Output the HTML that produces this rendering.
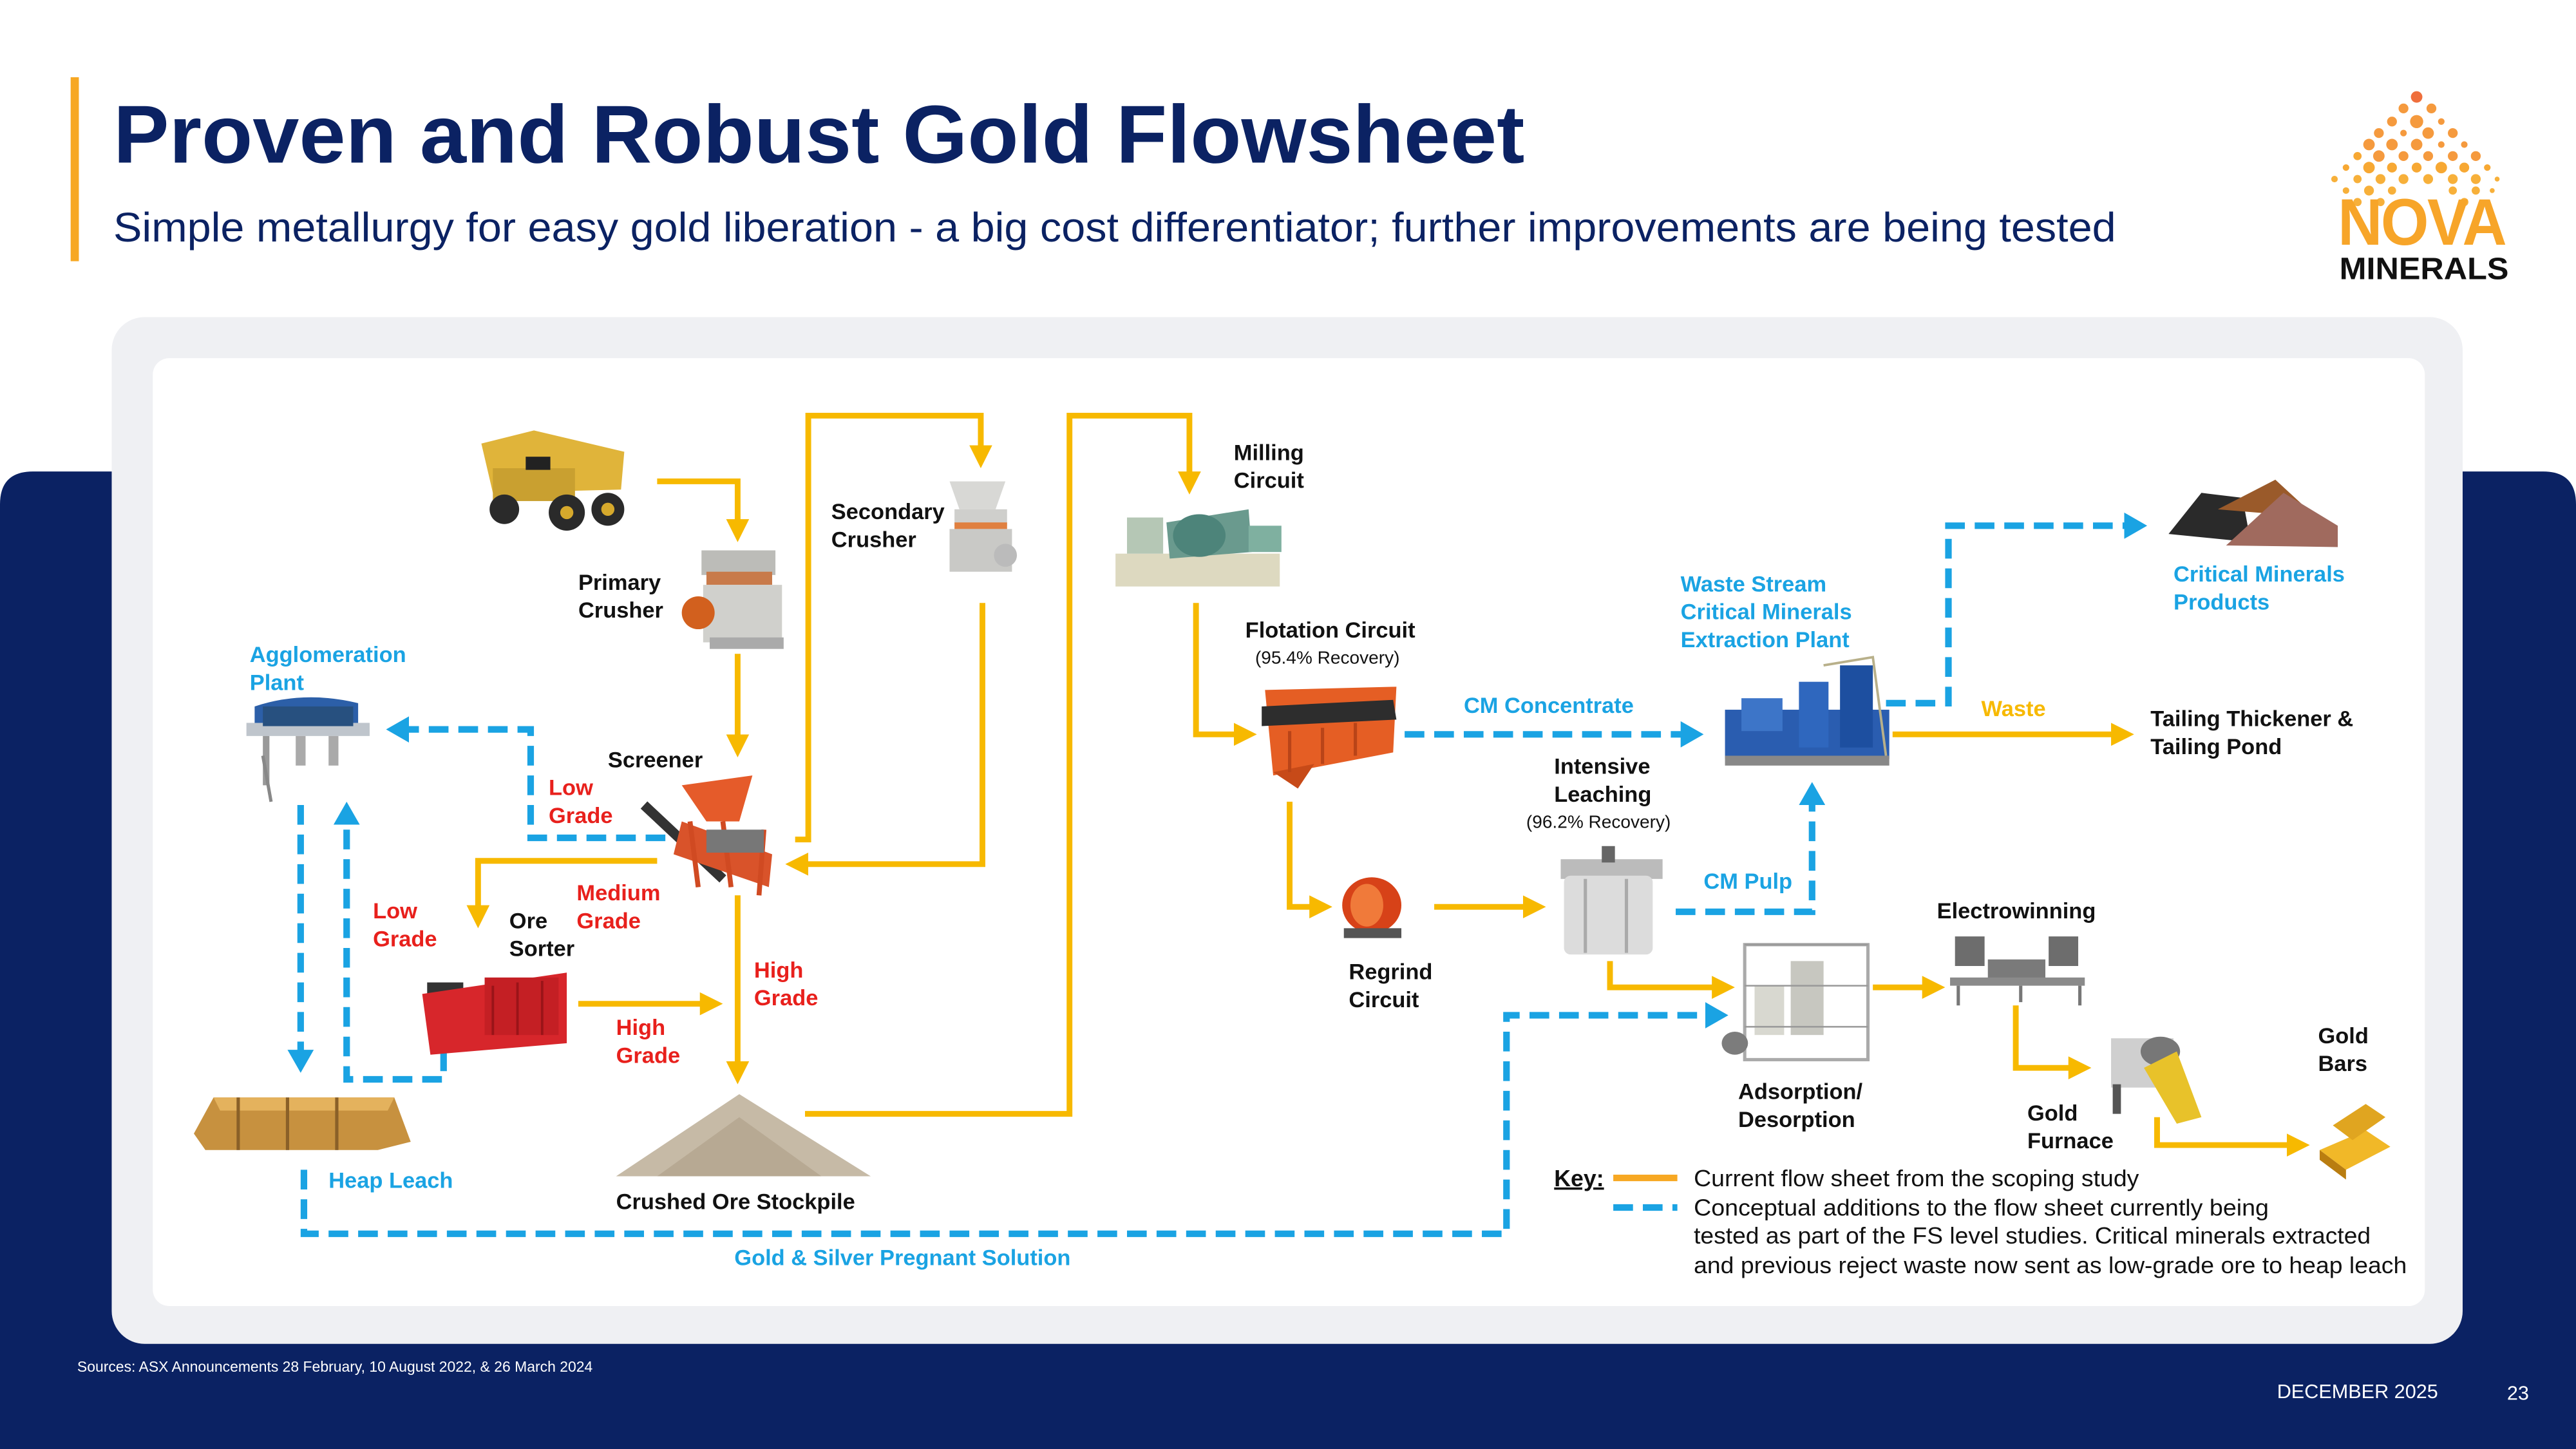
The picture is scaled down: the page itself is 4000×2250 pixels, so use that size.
<!DOCTYPE html>
<html><head><meta charset="utf-8">
<style>
html,body{margin:0;padding:0;background:#fff;}
svg{display:block;}
text{font-family:"Liberation Sans",Arial,sans-serif;}
.b{font-weight:bold;font-size:13.5px;fill:#111;}
.bl{font-weight:bold;font-size:13.5px;fill:#1aa3e3;}
.rd{font-weight:bold;font-size:13.5px;fill:#e8201c;}
.sm{font-size:11px;fill:#111;}
.k{font-size:14px;fill:#111;}
</style></head>
<body>
<svg width="4000" height="2250" viewBox="0 0 1568 882" preserveAspectRatio="none" xmlns="http://www.w3.org/2000/svg">
<defs>
<marker id="ay" markerWidth="4" markerHeight="4" refX="2" refY="2" orient="auto" markerUnits="strokeWidth"><path d="M0,0 L4,2 L0,4 Z" fill="#f7b900"/></marker>
<marker id="ab" markerWidth="3.5" markerHeight="4" refX="1.5" refY="2" orient="auto" markerUnits="strokeWidth"><path d="M0,0 L3.5,2 L0,4 Z" fill="#1aa3e3"/></marker>
</defs>
<rect width="1568" height="882" fill="#fff"/>
<path d="M0,307 Q0,287 20,287 L1548,287 Q1568,287 1568,307 L1568,882 L0,882 Z" fill="#0b2263"/>
<rect x="43" y="47" width="5" height="112" fill="#f7a823"/>
<text x="69" y="99" textLength="859" lengthAdjust="spacingAndGlyphs" style="font-weight:bold;font-size:50px;fill:#0b2263">Proven and Robust Gold Flowsheet</text>
<text x="69" y="147" textLength="1219" lengthAdjust="spacingAndGlyphs" style="font-size:25px;fill:#0b2263">Simple metallurgy for easy gold liberation - a big cost differentiator; further improvements are being tested</text>
<g fill="#f59a3e">
<circle cx="1471" cy="59" r="3.5" fill="#ef6f3c"/>
<circle cx="1463" cy="66" r="3"/><circle cx="1480" cy="66" r="3"/>
<circle cx="1456" cy="74" r="3"/><circle cx="1471" cy="74" r="4"/><circle cx="1486" cy="74" r="2"/>
<circle cx="1448" cy="81" r="3"/><circle cx="1463" cy="81" r="2"/><circle cx="1478" cy="81" r="3.5"/><circle cx="1493" cy="81" r="3"/>
<circle cx="1442" cy="88" r="3.5"/><circle cx="1456" cy="88" r="3.5"/><circle cx="1471" cy="88" r="3.5"/><circle cx="1486" cy="88" r="2"/><circle cx="1500" cy="88" r="2"/>
<circle cx="1435" cy="95" r="2.5" fill="#f7a833"/><circle cx="1448" cy="95" r="3.5"/><circle cx="1463" cy="95" r="3"/><circle cx="1478" cy="95" r="3"/><circle cx="1493" cy="95" r="3"/><circle cx="1507" cy="95" r="3"/>
<circle cx="1428" cy="102" r="2" fill="#f7a833"/><circle cx="1442" cy="102" r="3.5" fill="#f7a833"/><circle cx="1456" cy="102" r="3" fill="#f7a833"/><circle cx="1471" cy="102" r="3" fill="#f7a833"/><circle cx="1486" cy="102" r="3.5" fill="#f7a833"/><circle cx="1500" cy="102" r="3" fill="#f7a833"/><circle cx="1514" cy="102" r="2" fill="#f7a833"/>
<circle cx="1421" cy="109" r="2" fill="#f7b03a"/><circle cx="1435" cy="109" r="2.5" fill="#f7b03a"/><circle cx="1449" cy="109" r="3" fill="#f7b03a"/><circle cx="1463" cy="109" r="3" fill="#f7b03a"/><circle cx="1478" cy="109" r="3" fill="#f7b03a"/><circle cx="1493" cy="109" r="3" fill="#f7b03a"/><circle cx="1507" cy="109" r="3" fill="#f7b03a"/><circle cx="1520" cy="109" r="1.5" fill="#f7b03a"/>
<circle cx="1428" cy="116" r="2" fill="#f7b03a"/><circle cx="1442" cy="116" r="3" fill="#f7b03a"/><circle cx="1456" cy="116" r="2.5" fill="#f7b03a"/><circle cx="1493" cy="116" r="2.5" fill="#f7b03a"/><circle cx="1507" cy="116" r="2.5" fill="#f7b03a"/><circle cx="1517" cy="116" r="1.5" fill="#f7b03a"/>
<circle cx="1435" cy="123" r="2.5" fill="#f7b03a"/><circle cx="1449" cy="123" r="2.5" fill="#f7b03a"/><circle cx="1500" cy="123" r="2.5" fill="#f7b03a"/>
</g>
<text x="1423" y="149" style="font-weight:bold;font-size:40px;fill:#f7a529;letter-spacing:-1px" textLength="102" lengthAdjust="spacingAndGlyphs">NOVA</text>
<text x="1424" y="170" style="font-weight:bold;font-size:19px;fill:#111" textLength="103" lengthAdjust="spacingAndGlyphs">MINERALS</text>
<rect x="68" y="193" width="1431" height="625" rx="20" fill="#eff0f3"/>
<rect x="93" y="218" width="1383" height="577" rx="10" fill="#fff"/>

<g fill="none" stroke="#f7b900" stroke-width="3.5" stroke-linejoin="miter">
<path d="M400,293 L449,293 L449,323" marker-end="url(#ay)"/>
<path d="M449,398 L449,454" marker-end="url(#ay)"/>
<path d="M484,511 L492,511 L492,253 L597,253 L597,278" marker-end="url(#ay)"/>
<path d="M598,367 L598,526 L485,526" marker-end="url(#ay)"/>
<path d="M400,524 L291,524 L291,558" marker-end="url(#ay)"/>
<path d="M352,611 L433,611" marker-end="url(#ay)"/>
<path d="M449,545 L449,653" marker-end="url(#ay)"/>
<path d="M490,678 L651,678 L651,253 L724,253 L724,294" marker-end="url(#ay)"/>
<path d="M728,367 L728,447 L758,447" marker-end="url(#ay)"/>
<path d="M785,488 L785,552 L804,552" marker-end="url(#ay)"/>
<path d="M873,552 L934,552" marker-end="url(#ay)"/>
<path d="M980,585 L980,601 L1049,601" marker-end="url(#ay)"/>
<path d="M1140,601 L1177,601" marker-end="url(#ay)"/>
<path d="M1227,612 L1227,650 L1266,650" marker-end="url(#ay)"/>
<path d="M1313,680 L1313,697 L1399,697" marker-end="url(#ay)"/>
<path d="M1152,447 L1292,447" marker-end="url(#ay)"/>
</g>
<g fill="none" stroke="#1aa3e3" stroke-width="4" stroke-dasharray="12,6">
<path d="M405,510 L323,510 L323,444 L243,444" marker-end="url(#ab)"/>
<path d="M183,490 L183,645" marker-end="url(#ab)"/>
<path d="M270,640 L270,657 L211,657 L211,496" marker-end="url(#ab)"/>
<path d="M185,712 L185,751 L917,751 L917,618 L1044,618" marker-end="url(#ab)"/>
<path d="M855,447 L1029,447" marker-end="url(#ab)"/>
<path d="M1020,555 L1103,555 L1103,484" marker-end="url(#ab)"/>
<path d="M1148,428 L1186,428 L1186,320 L1299,320" marker-end="url(#ab)"/>
</g>

<g>
<path d="M293,270 L325,262 L380,275 L378,298 L300,300 Z" fill="#e0b43a"/>
<rect x="300" y="285" width="50" height="20" fill="#c9a030"/>
<circle cx="307" cy="310" r="9" fill="#2a2a2a"/><circle cx="345" cy="312" r="11" fill="#2a2a2a"/><circle cx="370" cy="310" r="10" fill="#2a2a2a"/>
<circle cx="345" cy="312" r="4" fill="#d6a92c"/><circle cx="370" cy="310" r="4" fill="#d6a92c"/>
<rect x="320" y="278" width="15" height="8" fill="#222"/>
</g>
<g>
<rect x="427" y="335" width="45" height="15" fill="#bcbcb8"/>
<rect x="430" y="348" width="40" height="8" fill="#c87a4a"/>
<rect x="428" y="356" width="48" height="35" fill="#d0d0cc"/>
<circle cx="425" cy="373" r="10" fill="#d2601e"/>
<rect x="432" y="388" width="45" height="7" fill="#aaa"/>
</g>
<g>
<path d="M578,293 L612,293 L606,310 L584,310 Z" fill="#d8d8d5"/>
<rect x="581" y="310" width="32" height="10" fill="#cfcfcc"/>
<rect x="581" y="318" width="32" height="4" fill="#e08040"/>
<rect x="578" y="322" width="38" height="26" fill="#c9c9c6"/>
<circle cx="612" cy="338" r="7" fill="#bbb"/>
</g>
<g>
<rect x="150" y="440" width="75" height="8" fill="#bfc5cc"/>
<path d="M155,430 Q185,420 218,428 L218,440 L155,440 Z" fill="#2c5fa8"/>
<rect x="160" y="430" width="55" height="12" fill="#27507f"/>
<rect x="160" y="448" width="4" height="30" fill="#999"/><rect x="180" y="448" width="6" height="18" fill="#aaa"/><rect x="200" y="448" width="6" height="18" fill="#aaa"/>
<path d="M160,460 L165,488" stroke="#888" stroke-width="2"/>
</g>
<g>
<path d="M415,478 L458,472 L450,500 L430,500 Z" fill="#e55b2a"/>
<path d="M392,490 L440,535" stroke="#333" stroke-width="6"/>
<path d="M415,500 L470,520 L468,540 L410,520 Z" fill="#d9532a"/>
<path d="M420,500 L425,540 M465,505 L462,545 M440,500 L445,540" stroke="#d04a22" stroke-width="3"/>
<rect x="430" y="505" width="35" height="14" fill="#777"/>
</g>
<g>
<rect x="260" y="598" width="22" height="14" fill="#333"/>
<path d="M257,605 L345,592 L345,635 L262,642 Z" fill="#d7262b"/>
<rect x="295" y="595" width="45" height="35" fill="#c41f24"/>
<path d="M300,600 L300,630 M315,598 L315,630 M330,597 L330,630" stroke="#9a1418" stroke-width="1.5"/>
</g>
<g>
<path d="M118,690 L130,668 L240,668 L250,695 L230,700 L125,700 Z" fill="#c7913f"/>
<path d="M130,668 L240,668 L236,676 L134,676 Z" fill="#e4b25d"/>
<path d="M145,668 L145,700 M175,668 L175,700 M205,668 L205,700" stroke="#8a6028" stroke-width="2"/>
</g>
<path d="M375,716 L450,666 L530,716 Z" fill="#c6baa6"/>
<path d="M400,716 L450,680 L500,716 Z" fill="#b7a993"/>
<g>
<rect x="679" y="337" width="100" height="20" fill="#ddd9c0"/>
<path d="M710,318 L760,310 L762,336 L712,340 Z" fill="#6a9a8e"/>
<ellipse cx="730" cy="326" rx="16" ry="13" fill="#4d847a"/>
<rect x="686" y="315" width="22" height="22" fill="#b5c7b5"/>
<rect x="760" y="320" width="20" height="16" fill="#7fb0a0"/>
</g>
<g>
<path d="M770,420 L850,418 L848,458 L775,472 Z" fill="#e55e24"/>
<path d="M768,430 L848,426 L850,438 L768,442 Z" fill="#2d2d2d"/>
<path d="M775,470 L790,480 L800,465" fill="#c74a18"/>
<path d="M785,445 L785,470 M805,443 L805,465 M825,440 L825,460" stroke="#b94418" stroke-width="2"/>
</g>
<g>
<rect x="1050" y="432" width="100" height="30" fill="#2a5db0"/>
<rect x="1120" y="405" width="20" height="50" fill="#1d4fa0"/>
<rect x="1095" y="415" width="18" height="40" fill="#2f67be"/>
<rect x="1060" y="425" width="25" height="20" fill="#3d75c8"/>
<path d="M1110,405 L1140,400 L1148,460" stroke="#b8b08a" stroke-width="1.5" fill="none"/>
<rect x="1050" y="460" width="100" height="6" fill="#888"/>
</g>
<g>
<path d="M1320,325 L1340,300 L1365,303 L1370,330 Z" fill="#2a2a2a"/>
<path d="M1350,310 L1385,292 L1410,315 Z" fill="#9a5a2a"/>
<path d="M1355,332 L1390,300 L1423,320 L1423,333 Z" fill="#a06a5e"/>
</g>
<g>
<ellipse cx="835" cy="551" rx="18" ry="17" fill="#d74218"/>
<ellipse cx="832" cy="551" rx="10" ry="13" fill="#f07a3a"/>
<rect x="818" y="565" width="35" height="6" fill="#555"/>
</g>
<g>
<rect x="950" y="523" width="62" height="12" fill="#bbb"/>
<rect x="952" y="533" width="54" height="48" rx="4" fill="#dcdcdc"/>
<path d="M965,535 L965,580 M990,535 L990,580" stroke="#aaa" stroke-width="2"/>
<rect x="975" y="515" width="8" height="10" fill="#666"/>
</g>
<g>
<rect x="1062" y="575" width="75" height="70" fill="none" stroke="#aaa" stroke-width="2"/>
<rect x="1090" y="585" width="20" height="45" fill="#c7c7c0"/>
<rect x="1068" y="600" width="18" height="30" fill="#d8d8d0"/>
<ellipse cx="1056" cy="635" rx="8" ry="7" fill="#7c7c7c"/>
<path d="M1062,575 L1137,575 M1062,600 L1137,600 M1062,625 L1137,625" stroke="#999" stroke-width="1"/>
</g>
<g>
<rect x="1190" y="570" width="18" height="18" fill="#6d6d6d"/>
<rect x="1247" y="570" width="18" height="18" fill="#6d6d6d"/>
<rect x="1210" y="584" width="35" height="12" fill="#7a7a7a"/>
<rect x="1187" y="595" width="82" height="5" fill="#8a8a8a"/>
<path d="M1192,600 L1192,612 M1266,600 L1266,612 M1230,600 L1230,610" stroke="#777" stroke-width="2"/>
</g>
<g>
<rect x="1285" y="632" width="38" height="30" fill="#cfcfcf"/>
<ellipse cx="1315" cy="640" rx="12" ry="9" fill="#777"/>
<path d="M1305,650 L1325,640 L1340,680 L1325,684 Z" fill="#e8c22a"/>
<rect x="1286" y="660" width="5" height="18" fill="#555"/>
</g>
<g>
<path d="M1412,700 L1440,688 L1455,698 L1428,712 Z" fill="#f1b828"/>
<path d="M1420,685 L1440,672 L1452,680 L1432,694 Z" fill="#e0a520"/>
<path d="M1412,700 L1428,712 L1428,718 L1412,706 Z" fill="#b97d10"/>
</g>

<text class="b" x="751" y="280">Milling</text><text class="b" x="751" y="297">Circuit</text>
<text class="b" x="506" y="316">Secondary</text><text class="b" x="506" y="333">Crusher</text>
<text class="b" x="352" y="359">Primary</text><text class="b" x="352" y="376">Crusher</text>
<text class="bl" x="152" y="403">Agglomeration</text><text class="bl" x="152" y="420">Plant</text>
<text class="b" x="370" y="467">Screener</text>
<text class="rd" x="334" y="484">Low</text><text class="rd" x="334" y="501">Grade</text>
<text class="rd" x="227" y="559">Low</text><text class="rd" x="227" y="576">Grade</text>
<text class="rd" x="351" y="548">Medium</text><text class="rd" x="351" y="565">Grade</text>
<text class="b" x="310" y="565">Ore</text><text class="b" x="310" y="582">Sorter</text>
<text class="rd" x="459" y="595">High</text><text class="rd" x="459" y="612">Grade</text>
<text class="rd" x="375" y="630">High</text><text class="rd" x="375" y="647">Grade</text>
<text class="bl" x="200" y="723">Heap Leach</text>
<text class="b" x="375" y="736">Crushed Ore Stockpile</text>
<text class="bl" x="447" y="770">Gold &amp; Silver Pregnant Solution</text>
<text class="b" x="758" y="388">Flotation Circuit</text><text class="sm" x="764" y="404">(95.4% Recovery)</text>
<text class="bl" x="891" y="434">CM Concentrate</text>
<text class="b" x="946" y="471">Intensive</text><text class="b" x="946" y="488">Leaching</text><text class="sm" x="929" y="504">(96.2% Recovery)</text>
<text class="bl" x="1037" y="541">CM Pulp</text>
<text class="b" x="821" y="596">Regrind</text><text class="b" x="821" y="613">Circuit</text>
<text class="b" x="1179" y="559">Electrowinning</text>
<text class="b" x="1058" y="669">Adsorption/</text><text class="b" x="1058" y="686">Desorption</text>
<text class="b" x="1234" y="682">Gold</text><text class="b" x="1234" y="699">Furnace</text>
<text class="b" x="1411" y="635">Gold</text><text class="b" x="1411" y="652">Bars</text>
<text class="bl" x="1023" y="360">Waste Stream</text><text class="bl" x="1023" y="377">Critical Minerals</text><text class="bl" x="1023" y="394">Extraction Plant</text>
<text x="1206" y="436" style="font-weight:bold;font-size:13.5px;fill:#f7b900">Waste</text>
<text class="bl" x="1323" y="354">Critical Minerals</text><text class="bl" x="1323" y="371">Products</text>
<text class="b" x="1309" y="442">Tailing Thickener &amp;</text><text class="b" x="1309" y="459">Tailing Pond</text>
<text x="946" y="722" style="font-weight:bold;font-size:14px;fill:#111;text-decoration:underline">Key:</text>
<line x1="982" y1="717" x2="1021" y2="717" stroke="#f7a823" stroke-width="4"/>
<line x1="982" y1="735" x2="1021" y2="735" stroke="#1aa3e3" stroke-width="4" stroke-dasharray="12,6"/>
<text class="k" x="1031" y="722" textLength="271" lengthAdjust="spacingAndGlyphs">Current flow sheet from the scoping study</text>
<text class="k" x="1031" y="740" textLength="350" lengthAdjust="spacingAndGlyphs">Conceptual additions to the flow sheet currently being</text>
<text class="k" x="1031" y="757" textLength="412" lengthAdjust="spacingAndGlyphs">tested as part of the FS level studies. Critical minerals extracted</text>
<text class="k" x="1031" y="775" textLength="434" lengthAdjust="spacingAndGlyphs">and previous reject waste now sent as low-grade ore to heap leach</text>
<text x="47" y="835" style="font-size:9px;fill:#fff">Sources: ASX Announcements 28 February, 10 August 2022, &amp; 26 March 2024</text>
<text x="1386" y="851" style="font-size:12px;fill:#fff">DECEMBER 2025</text>
<text x="1526" y="852" style="font-size:12px;fill:#fff">23</text>
</svg>
</body></html>
